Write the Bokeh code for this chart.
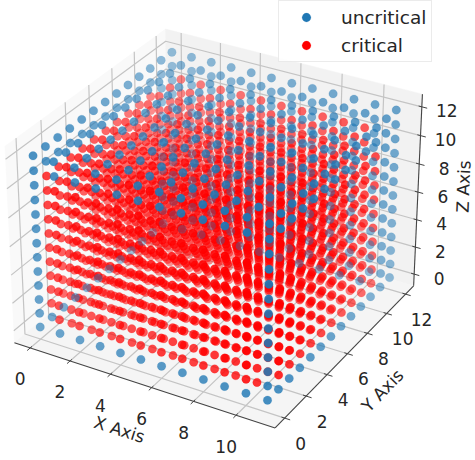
import numpy as np
from bokeh.plotting import figure
from bokeh.models import Legend, LegendItem, ColumnDataSource
from bokeh.core.properties import value
from bokeh.embed import file_html
from bokeh.resources import INLINE

x_values = [0, 1, 2, 3, 4, 5, 6, 7, 8, 9, 10, 11]
y_values = [0, 1, 2, 3, 4, 5, 6, 7, 8, 9, 10, 11, 12]
z_values = [0, 1, 2, 3, 4, 5, 6, 7, 8, 9, 10, 11, 12]
face_inner_x = [1, 2, 3, 4, 5, 6, 7, 8, 9, 10]
face_inner_y = [1, 2, 3, 4, 5, 6, 7, 8, 9, 10]
face_inner_z = [1, 2, 3, 4, 5, 6, 7, 8, 9, 10]
x_ticks = [0, 2, 4, 6, 8, 10]
y_ticks = [0, 2, 4, 6, 8, 10, 12]
z_ticks = [0, 2, 4, 6, 8, 10, 12]
labels = ["uncritical", "critical"]
axis_titles = ["X Axis", "Y Axis", "Z Axis"]

FONT = "DejaVu Sans"
BLUE = "#1f77b4"
RED = "#ff0000"


def is_critical(x, y, z):
    if z == z_values[-1] or y == y_values[-1]:
        return False
    if x in (x_values[0], x_values[-1]):
        return y in face_inner_y and z in face_inner_z
    if y == y_values[0]:
        return x in face_inner_x and z in face_inner_z
    if z == z_values[0]:
        return x in face_inner_x and y in face_inner_y
    return True


xlim = (-0.55, 11.55)
ylim = (-0.6, 12.6)
zlim = (-0.6, 12.6)
xpad, ypad, zpad = (12.1 / 48, 13.2 / 48, 13.2 / 48)
x0, x1 = xlim[0] - xpad, xlim[1] + xpad
y0, y1 = ylim[0] - ypad, ylim[1] + ypad
z0, z1 = zlim[0] - zpad, zlim[1] + zpad

U = np.array([0.75, 0.4330127, 0.0])
V = np.array([-0.2165064, 0.375, 0.75])
N = np.array([0.4330127, -0.75, 0.5])
ASPECT = np.array([1.1429, 1.1429, 0.8572])
K, CX, CY = 2897.0, 217.2, 218.4


def project(x, y, z):
    x, y, z = np.asarray(x, float), np.asarray(y, float), np.asarray(z, float)
    P = np.stack([
        ((x - xlim[0]) / (xlim[1] - xlim[0]) - 0.5) * ASPECT[0],
        ((y - ylim[0]) / (ylim[1] - ylim[0]) - 0.5) * ASPECT[1],
        ((z - zlim[0]) / (zlim[1] - zlim[0]) - 0.5) * ASPECT[2],
    ], axis=-1)
    d = 10.0 - P @ N
    return CX + K * (P @ U) / d, CY - K * (P @ V) / d, d


def points_source(points):
    pts = np.array(points, float)
    px, py, d = project(pts[:, 0], pts[:, 1], pts[:, 2])
    alpha = 1 - 0.7 * (d - d.min()) / (d.max() - d.min())
    order = np.argsort(-d)
    return ColumnDataSource(dict(x=px[order], y=py[order], a=alpha[order])), len(order) - 1


p = figure(width=475, height=460, x_range=(0, 475), y_range=(460, 0),
           output_backend="svg", toolbar_location=None, min_border=0, margin=0)
p.xaxis.visible = False
p.yaxis.visible = False
p.grid.visible = False
p.outline_line_color = None
p.background_fill_color = "white"

panes = [
    ([x0, x0, x0, x0], [y0, y1, y1, y0], [z0, z0, z1, z1], "#f9f9f9"),
    ([x0, x1, x1, x0], [y1, y1, y1, y1], [z0, z0, z1, z1], "#f2f2f2"),
    ([x0, x1, x1, x0], [y0, y0, y1, y1], [z0, z0, z0, z0], "#f5f5f5"),
]
for a, b, c, col in panes:
    sx, sy, _ = project(a, b, c)
    p.patch(sx, sy, fill_color=col, line_color=col, line_width=0.5)

GRID = "#c4c4c4"
for t in x_ticks:
    sx, sy, _ = project([t, t, t], [y0, y1, y1], [z0, z0, z1])
    p.line(sx, sy, line_color=GRID, line_width=1.2)
for t in y_ticks:
    sx, sy, _ = project([x1, x0, x0], [t, t, t], [z0, z0, z1])
    p.line(sx, sy, line_color=GRID, line_width=1.2)
for t in z_ticks:
    sx, sy, _ = project([x0, x0, x1], [y0, y1, y1], [t, t, t])
    p.line(sx, sy, line_color=GRID, line_width=1.2)

AXC = "#444444"
for a, b, c in [([x0, x1], [y0, y0], [z0, z0]), ([x1, x1], [y0, y1], [z0, z0]), ([x1, x1], [y1, y1], [z0, z1])]:
    sx, sy, _ = project(a, b, c)
    p.line(sx, sy, line_color=AXC, line_width=1.1)
for t in x_ticks:
    sx, sy, _ = project([t, t], [y0 - 0.25, y0 + 0.15], [z0, z0])
    p.line(sx, sy, line_color=AXC, line_width=1.0)
for t in y_ticks:
    sx, sy, _ = project([x1 + 0.25, x1 - 0.15], [t, t], [z0, z0])
    p.line(sx, sy, line_color=AXC, line_width=1.0)
for t in z_ticks:
    sx, sy, _ = project([x1 + 0.25, x1 - 0.15], [y1, y1], [t, t])
    p.line(sx, sy, line_color=AXC, line_width=1.0)

TEXTC = "#262626"
sx, sy, _ = project(x_ticks, [y0] * len(x_ticks), [z0] * len(x_ticks))
p.text(sx, sy, text=[str(t) for t in x_ticks], x_offset=-10, y_offset=31, text_align="center",
       text_baseline="middle", text_font=value(FONT), text_font_size="17px", text_color=TEXTC)
sx, sy, _ = project([x1] * len(y_ticks), y_ticks, [z0] * len(y_ticks))
p.text(sx, sy, text=[str(t) for t in y_ticks], x_offset=16, y_offset=25, text_align="center",
       text_baseline="middle", text_font=value(FONT), text_font_size="17px", text_color=TEXTC)
sx, sy, _ = project([x1] * len(z_ticks), [y1] * len(z_ticks), z_ticks)
p.text(sx, sy, text=[str(t) for t in z_ticks], x_offset=25, y_offset=4, text_align="center",
       text_baseline="middle", text_font=value(FONT), text_font_size="17px", text_color=TEXTC)

for s, tx, ty, ang in [(axis_titles[0], 119, 429, -0.31), (axis_titles[1], 382, 390, 0.80), (axis_titles[2], 463, 186, 1.53)]:
    p.text([tx], [ty], text=[s], angle=ang, text_align="center", text_baseline="middle",
           text_font=value(FONT), text_font_size="17px", text_color=TEXTC)

crit, uncrit = [], []
for x in x_values:
    for y in y_values:
        for z in z_values:
            (crit if is_critical(x, y, z) else uncrit).append((x, y, z))

src_r, last_r = points_source(crit)
src_b, last_b = points_source(uncrit)
r_red = p.scatter("x", "y", source=src_r, size=8.5, fill_color=RED, fill_alpha="a", line_color=RED, line_alpha="a", line_width=0.2)
r_blue = p.scatter("x", "y", source=src_b, size=8.5, fill_color=BLUE, fill_alpha="a", line_color=BLUE, line_alpha="a", line_width=0.2)

legend = Legend(items=[LegendItem(label=labels[0], renderers=[r_blue], index=last_b),
                       LegendItem(label=labels[1], renderers=[r_red], index=last_r)],
                location=(278, 398), orientation="vertical", padding=5, margin=0,
                glyph_width=44, glyph_height=22, spacing=6, label_standoff=13,
                label_text_font=FONT, label_text_font_size="18.5px", label_text_color=TEXTC,
                border_line_color="#d8d8d8", border_line_width=1,
                background_fill_color="white", background_fill_alpha=0.85)
p.add_layout(legend)

open("out.html", "w").write(file_html(p, INLINE))
